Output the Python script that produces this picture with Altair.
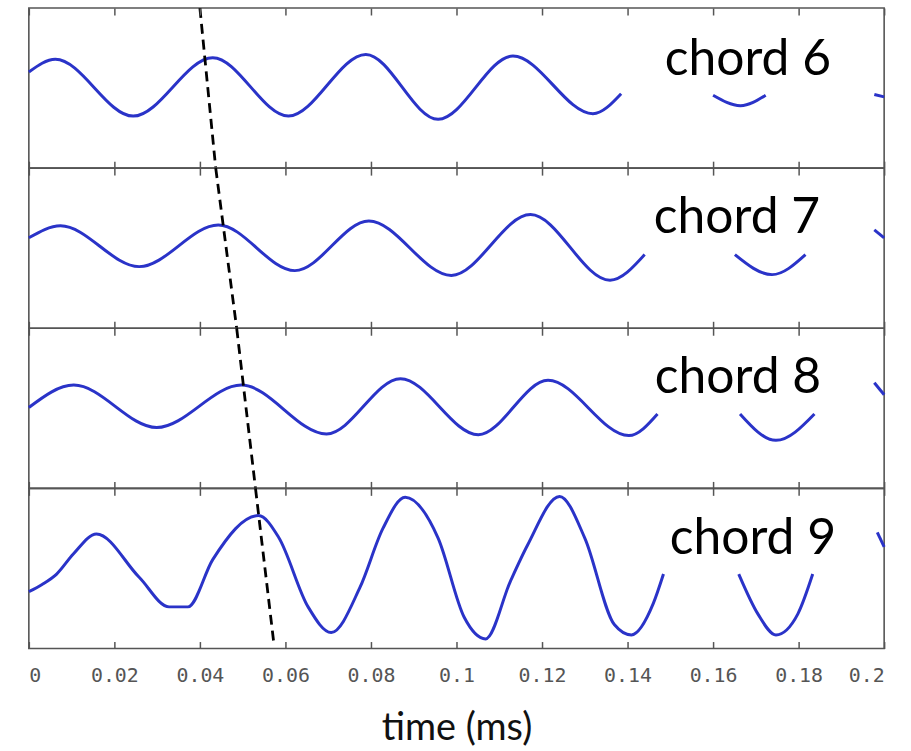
import altair as alt
import pandas as pd

# Waveform readings per chord: time (ms), amplitude, and visible segment id
# (segments break where the label box hides the trace).
c6_t = [0.0, 0.0062, 0.0244, 0.0430, 0.0607, 0.0788, 0.0957, 0.1132, 0.1319, 0.1385,
        0.1600, 0.1664, 0.1723,
        0.1977, 0.2]
c6_a = [0.20, 0.36, -0.35, 0.38, -0.35, 0.42, -0.39, 0.40, -0.32, -0.07,
        -0.09, -0.22, -0.09,
        -0.08, -0.11]
c6_s = [0] * 10 + [1] * 3 + [2] * 2

c7_t = [0.0, 0.0074, 0.0258, 0.0443, 0.0622, 0.0795, 0.0988, 0.1173, 0.1359, 0.1440,
        0.1651, 0.1738, 0.1816,
        0.1977, 0.2]
c7_a = [0.13, 0.28, -0.23, 0.29, -0.28, 0.34, -0.34, 0.42, -0.40, -0.08,
        -0.08, -0.33, -0.08,
        0.23, 0.13]
c7_s = [0] * 10 + [1] * 3 + [2] * 2

c8_t = [0.0, 0.0105, 0.0299, 0.0497, 0.0696, 0.0869, 0.1051, 0.1214, 0.1403, 0.1470,
        0.1663, 0.1747, 0.1837,
        0.1977, 0.2]
c8_a = [0.01, 0.29, -0.24, 0.29, -0.32, 0.37, -0.33, 0.35, -0.34, -0.07,
        -0.07, -0.40, -0.07,
        0.32, 0.17]
c8_s = [0] * 10 + [1] * 3 + [2] * 2

c9_t = [0.0, 0.0031, 0.0065, 0.0104, 0.0158, 0.0258, 0.0328, 0.0372, 0.0430, 0.0537, 0.0584,
        0.0653, 0.0707, 0.0774, 0.0828, 0.0880, 0.0957, 0.1018, 0.1068,
        0.1126, 0.1166, 0.1241, 0.1300, 0.1369, 0.1409, 0.1460, 0.1484,
        0.1660, 0.1705, 0.1747, 0.1798, 0.1833,
        0.1984, 0.2]
c9_a = [-0.29, -0.20, -0.07, 0.18, 0.43, -0.11, -0.48, -0.48, 0.11, 0.66, 0.39,
        -0.48, -0.80, -0.24, 0.50, 0.89, 0.38, -0.61, -0.88,
        -0.16, 0.29, 0.90, 0.38, -0.70, -0.83, -0.44, -0.07,
        -0.07, -0.57, -0.83, -0.57, -0.07,
        0.45, 0.27]
c9_s = [0] * 27 + [1] * 5 + [2] * 2

chord_names = ["chord 6", "chord 7", "chord 8", "chord 9"]

# Dashed guide through the successive peaks: x at the top and bottom of each panel
guide_top = [0.0400, 0.0437, 0.0486, 0.0530]
guide_bottom = [0.0437, 0.0486, 0.0530, 0.0573]
guide_bottom_amp = [-1.0, -1.0, -1.0, -0.94]

tick_values = [0, 0.02, 0.04, 0.06, 0.08, 0.1, 0.12, 0.14, 0.16, 0.18, 0.2]

series = [(c6_t, c6_a, c6_s), (c7_t, c7_a, c7_s), (c8_t, c8_a, c8_s), (c9_t, c9_a, c9_s)]

# label placement inside each panel (pixels)
label_x = [723, 712, 713, 728]
label_y = [67, 65, 65, 66]

W, H = 860, 161
BLUE = "#2a33c8"
FRAME = "#555555"

x_scale = alt.Scale(domain=[0, 0.2], nice=False, zero=False)
y_scale = alt.Scale(domain=[-1, 1], nice=False, zero=False)

panels = []
for i, ((t, a, s), name) in enumerate(zip(series, chord_names)):
    last = i == len(series) - 1
    df = pd.DataFrame({"t": t, "amp": a, "seg": s})

    bottom_axis = alt.Axis(
        orient="bottom", values=tick_values, offset=-7, ticks=True, tickSize=7,
        tickColor=FRAME, tickWidth=1.5, tickOpacity=1, domain=False, zindex=2,
        grid=False, labels=last, format="~g", labelFont="DejaVu Sans Mono",
        labelFontSize=20, labelColor="#555555", labelPadding=17,
        title="time (ms)" if last else None,
        titleFont="Lato", titleFontSize=38, titleFontWeight="normal",
        titleColor="#111111", titlePadding=24,
    )
    top_axis = alt.Axis(
        orient="top", values=tick_values, offset=-7, ticks=True, tickSize=7,
        tickColor=FRAME, tickWidth=1.5, tickOpacity=1, domain=False, zindex=2,
        grid=False, labels=False, title=None,
    )

    wave = alt.Chart(df).mark_line(
        color=BLUE, strokeWidth=3, interpolate="monotone"
    ).encode(
        x=alt.X("t:Q", scale=x_scale, axis=bottom_axis),
        y=alt.Y("amp:Q", scale=y_scale, axis=None),
        detail="seg:N",
    )

    guide_df = pd.DataFrame({
        "x1": [guide_top[i]], "x2": [guide_bottom[i]],
        "y1": [1.0], "y2": [guide_bottom_amp[i]],
    })
    guide = alt.Chart(guide_df).mark_rule(
        color="black", strokeWidth=2.8, strokeDash=[10, 6]
    ).encode(
        x=alt.X("x1:Q", scale=x_scale, axis=top_axis),
        x2="x2:Q",
        y=alt.Y("y1:Q", scale=y_scale, axis=None),
        y2="y2:Q",
    )

    label = alt.Chart(pd.DataFrame({"name": [name]})).mark_text(
        font="Lato", fontSize=50, color="black", align="center", baseline="alphabetic"
    ).encode(
        text="name:N",
        x=alt.value(label_x[i]),
        y=alt.value(label_y[i]),
    )

    panel = alt.layer(wave, guide, label).resolve_axis(x="independent").properties(
        width=W, height=H
    )
    panels.append(panel)

chart = alt.vconcat(*panels, spacing=0, bounds="flush").properties(
    padding={"left": 22, "top": 3, "right": 20, "bottom": 5},
    background="white",
).configure_view(
    stroke=FRAME, strokeWidth=1.6
)

chart.save("out.html", embed_options={"renderer": "svg", "actions": False})
